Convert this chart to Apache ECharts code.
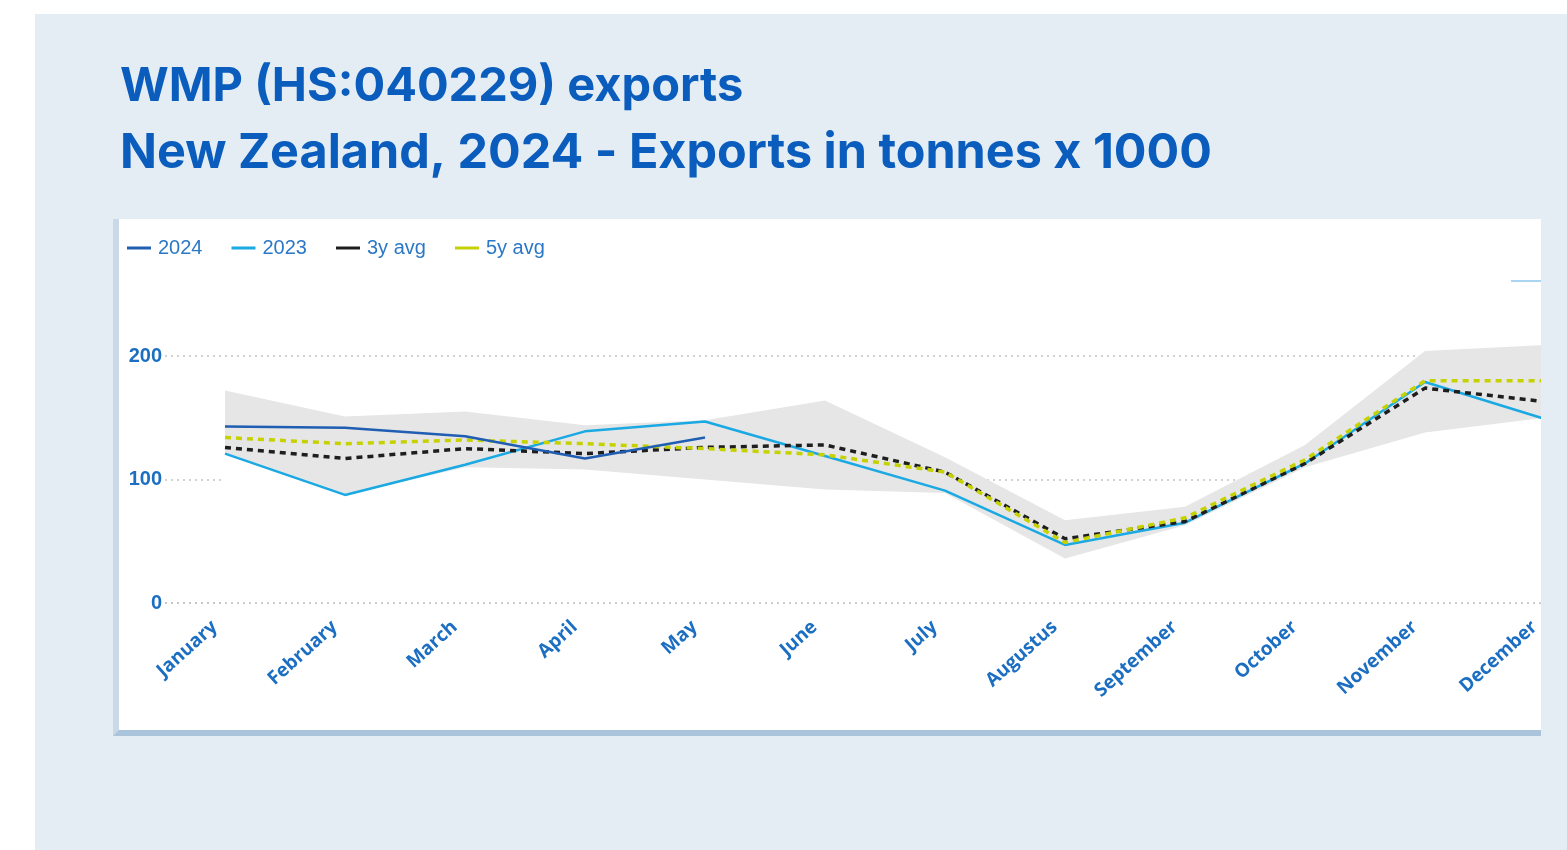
<!DOCTYPE html>
<html>
<head>
<meta charset="utf-8">
<script src="https://cdn.jsdelivr.net/npm/echarts@6/dist/echarts.min.js"></script>
<style>
  html, body { margin: 0; padding: 0; background: #ffffff; width: 1567px; height: 850px; overflow: hidden; position: relative; }
  #panel { position: absolute; left: 35px; top: 14px; width: 1532px; height: 836px; background: #e4edf4; }
  #box { position: absolute; left: 113px; top: 219px; width: 1422px; height: 511px; background: #ffffff;
         border-left: 6px solid #c9d9e7; border-bottom: 6px solid #aac4dc; }
  #chart { position: absolute; left: 0; top: 0; width: 1640px; height: 850px; z-index: 1; }
  #cover { position: absolute; left: 1541px; top: 200px; width: 26px; height: 560px; background: #e4edf4; z-index: 2; }
  #tick { position: absolute; left: 1511px; top: 280px; width: 30px; height: 2px; background: #a9d5f2; z-index: 2; }
</style>
</head>
<body>
<div id="panel"></div>
<div id="box"></div>
<div id="chart"></div>
<div id="cover"></div>
<div id="tick"></div>
<script>
// ---- data (thousand tonnes) ----
const months = ['January','February','March','April','May','June','July','Augustus','September','October','November','December'];
const y2024 = [143, 142, 135, 117, 134];
const y2023 = [121, 87.5, 112, 139, 147, 119, 91, 47, 65, 113, 179, 149];
const avg3 = [126, 117, 125, 121, 126, 128, 106, 52, 66, 113, 174, 163];
const avg5 = [134, 129, 132, 129, 125, 120, 106, 49, 69, 116, 180, 180];
const rangeHigh = [172, 151, 155, 144, 148, 164, 118, 67, 78, 128, 204, 209];
const rangeLow = [121, 87.5, 110, 108, 100, 92, 89, 36, 63, 110, 138, 150];
const yTicks = [0, 100, 200];

const titleLine1 = 'WMP (HS:040229) exports';
const titleLine2 = 'New Zealand, 2024 - Exports in tonnes x 1000';

const chart = echarts.init(document.getElementById('chart'), null, { renderer: 'canvas' });
const blue = '#1b6ec2';
const titleColor = '#0a5cbd';

chart.setOption({
  animation: false,
  title: [
    { text: titleLine1, left: 115, top: 58,
      textStyle: { fontFamily: 'Inter', fontWeight: 700, fontSize: 47, color: titleColor } },
    { text: titleLine2, left: 115, top: 124,
      textStyle: { fontFamily: 'Inter', fontWeight: 700, fontSize: 48.5, color: titleColor } }
  ],
  legend: {
    data: ['2024', '2023', '3y avg', '5y avg'],
    left: 122, top: 233,
    icon: 'rect', itemWidth: 24, itemHeight: 3, itemGap: 29,
    textStyle: { fontFamily: 'Liberation Sans', fontSize: 20, color: '#2a78c6', padding: [0, 0, 0, 2] }
  },
  grid: { left: 165, right: 35, top: 356, bottom: 247, containLabel: false },
  xAxis: {
    type: 'category', data: months, boundaryGap: true,
    axisLine: { show: false }, axisTick: { show: false },
    axisLabel: { rotate: 42, margin: 12, padding: [0, 14, 0, 0], interval: 0,
      fontFamily: 'Open Sans', fontWeight: 700, fontSize: 19, color: blue }
  },
  yAxis: {
    type: 'value', min: yTicks[0], max: yTicks[yTicks.length - 1], interval: 100,
    axisLine: { show: false }, axisTick: { show: false },
    axisLabel: { margin: 3, fontFamily: 'Liberation Sans', fontWeight: 700, fontSize: 20, color: blue },
    splitLine: { lineStyle: { type: [2, 4], color: '#c4c4c4', width: 1.5 } }
  },
  series: [
    { name: 'range high', type: 'line', data: rangeHigh, symbol: 'none', clip: false, silent: true, z: 1,
      lineStyle: { width: 0 }, areaStyle: { color: '#e6e6e6', opacity: 1 } },
    { name: 'range low', type: 'line', data: rangeLow, symbol: 'none', clip: false, silent: true, z: 2,
      lineStyle: { width: 0 }, areaStyle: { color: '#ffffff', opacity: 1 } },
    { name: '2023', type: 'line', data: y2023, symbol: 'none', showSymbol: false, clip: false, z: 3,
      itemStyle: { color: '#1ba9e3' }, lineStyle: { color: '#1ba9e3', width: 2.5 } },
    { name: '3y avg', type: 'line', data: avg3, symbol: 'none', showSymbol: false, clip: false, z: 4,
      itemStyle: { color: '#1e1e1e' }, lineStyle: { color: '#1e1e1e', width: 3.5, type: [6, 5] } },
    { name: '5y avg', type: 'line', data: avg5, symbol: 'none', showSymbol: false, clip: false, z: 4,
      itemStyle: { color: '#c6d200' }, lineStyle: { color: '#c6d200', width: 3.5, type: [6, 5] },
      markLine: { symbol: 'none', silent: true, label: { show: false },
        lineStyle: { type: [2, 4], color: '#c4c4c4', width: 1.5 }, data: [{ yAxis: yTicks[0] }] } },
    { name: '2024', type: 'line', data: y2024, symbol: 'none', showSymbol: false, clip: false, z: 5,
      itemStyle: { color: '#1f5eb3' }, lineStyle: { color: '#1f5eb3', width: 2.5 } }
  ]
});
</script>
</body>
</html>
